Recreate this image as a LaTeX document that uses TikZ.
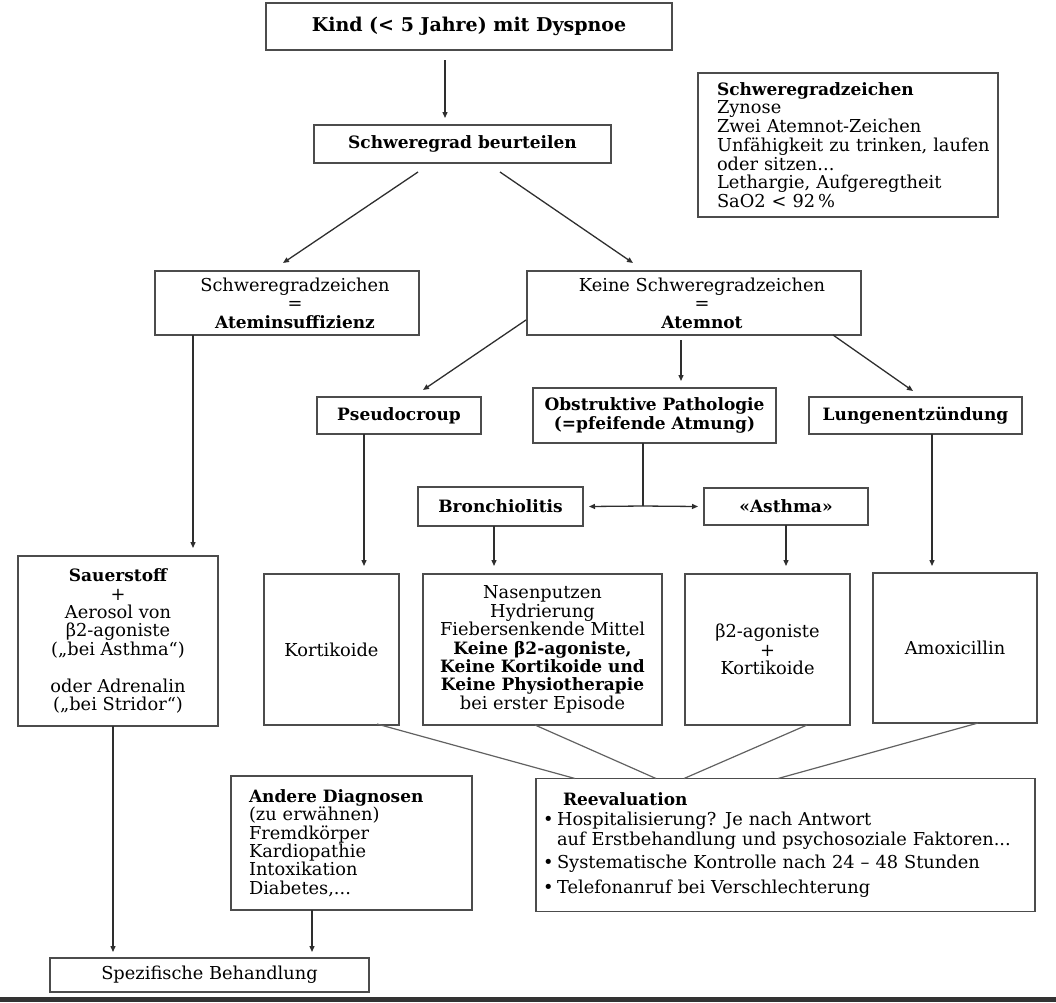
\documentclass[tikz,border=0pt]{standalone}
\usepackage{fontspec}
\setmainfont{DejaVu Serif}
\usetikzlibrary{calc,arrows.meta}
\newcommand\myfs{\fontsize{17.8}{18.4}\selectfont}
\newcommand\mybf{\fontsize{17}{18.4}\selectfont\bfseries}
\newcommand\bt[1]{{\mybf #1}}
\begin{document}
\begin{tikzpicture}[x=1pt,y=-1pt,
  box/.style={draw=black!70, line width=1.5pt, inner sep=0pt, outer sep=0pt, align=center, font=\myfs},
  bbox/.style={box, font=\mybf},
  lbox/.style={box, align=left},
  arr/.style={draw=black!82, line width=1.3pt, -{Triangle[length=6pt,width=5pt]}},
  ln/.style={draw=black!62, line width=1.2pt}]
\useasboundingbox (0,0) rectangle (1056,1002);
\fill[black!80] (0,997) rectangle (1056,1002);

% nodes
\node[bbox, font=\fontsize{19}{20}\selectfont\bfseries, minimum width=406pt, minimum height=47pt] (kind) at (469,26.5) {Kind (< 5 Jahre) mit Dyspnoe};
\node[bbox, minimum width=297pt, minimum height=38pt] (beur) at (462.5,144) {Schweregrad beurteilen};
\node[lbox, text width=262pt, inner xsep=19pt, minimum height=144pt, font=\fontsize{17.8}{18.7}\selectfont] (info) at (848,145)
  {\bt{Schweregradzeichen}\\Zynose\\Zwei Atemnot-Zeichen\\\mbox{Unfähigkeit zu trinken, laufen}\\oder sitzen...\\Lethargie, Aufgeregtheit\\SaO2 < 92\,\%};
\node[box, minimum width=264pt, minimum height=64pt] (sz) at (287,303)
  {\hspace*{16pt}Schweregradzeichen\\\hspace*{16pt}=\\\hspace*{16pt}\bt{Ateminsuffizienz}};
\node[box, minimum width=334pt, minimum height=64pt] (keine) at (694,303)
  {\hspace*{16pt}Keine Schweregradzeichen\\\hspace*{16pt}=\\\hspace*{16pt}\bt{Atemnot}};
\node[bbox, minimum width=164pt, minimum height=37pt] (pseudo) at (399,415.5) {Pseudocroup};
\node[bbox, font=\fontsize{17}{19}\selectfont\bfseries, minimum width=243pt, minimum height=55pt] (obst) at (654.5,415.5) {Obstruktive Pathologie\\(=pfeifende Atmung)};
\node[bbox, minimum width=213pt, minimum height=37pt] (lunge) at (915.5,415.5) {Lungenentzündung};
\node[bbox, minimum width=165pt, minimum height=39pt] (bronch) at (500.5,506.5) {Bronchiolitis};
\node[bbox, minimum width=164pt, minimum height=37pt] (asthma) at (786,506.5) {«Asthma»};
\node[box, minimum width=200pt, minimum height=170pt] (sauer) at (118,641)
  {\bt{Sauerstoff}\\+\\Aerosol von\\β2-agoniste\\(„bei Asthma“)\\[18.4pt]oder Adrenalin\\(„bei Stridor“)};
\node[box, minimum width=135pt, minimum height=151pt] (korti) at (331.5,649.5) {Kortikoide};
\node[box, minimum width=239pt, minimum height=151pt] (nasen) at (542.5,649.5)
  {Nasenputzen\\Hydrierung\\Fiebersenkende Mittel\\\bt{Keine β2-agoniste,}\\\bt{Keine Kortikoide und}\\\bt{Keine Physiotherapie}\\bei erster Episode};
\node[box, minimum width=165pt, minimum height=151pt] (beta) at (767.5,649.5) {β2-agoniste\\+\\Kortikoide};
\node[box, minimum width=164pt, minimum height=150pt] (amox) at (955,648) {Amoxicillin};
\node[lbox, text width=205pt, inner xsep=18pt, minimum height=134pt] (andere) at (351.5,843)
  {\bt{Andere Diagnosen}\\(zu erwähnen)\\Fremdkörper\\Kardiopathie\\Intoxikation\\Diabetes,...};
\node[lbox, text width=485pt, inner xsep=7pt, minimum height=133pt, font=\fontsize{17.8}{20}\selectfont] (reeval) at (785.5,845)
  {\hspace*{20pt}\bt{Reevaluation}\\
   \makebox[14pt][l]{•}Hospitalisierung? Je nach Antwort\\
   \hspace*{14pt}\mbox{auf Erstbehandlung und psychosoziale Faktoren...}\\[3pt]
   \makebox[14pt][l]{•}Systematische Kontrolle nach 24 – 48 Stunden\\[5pt]
   \makebox[14pt][l]{•}Telefonanruf bei Verschlechterung};
\node[box, minimum width=319pt, minimum height=34pt] (spez) at (209.5,975) {Spezifische Behandlung};

% arrows
\draw[arr] ($(kind.south)+(-24,10)$) -- ($(beur.north)+(-17.5,-7)$);
\draw[arr] ($(beur.south)+(-44.5,9)$) -- ($(sz.north)+(-4,-8)$);
\draw[arr] ($(beur.south)+(37.5,9)$) -- ($(keine.north)+(-61,-8)$);
\draw[arr] ($(keine.west)+(-1,17)$) -- ($(pseudo.north)+(24,-7)$);
\draw[arr] ($(keine.south)+(-13,5)$) -- ($(obst.north)+(26.5,-7)$);
\draw[arr] ($(keine.south east)+(-28,0)$) -- ($(lunge.north)+(-2.5,-6)$);
\coordinate (br) at ($(obst.south)+(-11.5,63)$);
\draw[draw=black!82, line width=1.3pt] ($(obst.south)+(-11.5,0)$) -- (br);
\draw[arr] (br) -- ($(bronch.east)+(6,0)$);
\draw[arr] (br) -- ($(asthma.west)+(-6,0)$);
\draw[arr] ($(sz.south)+(-94,0)$) -- ($(sauer.north)+(75,-8)$);
\draw[arr] ($(pseudo.south)+(-35,0)$) -- ($(korti.north)+(32.5,-8)$);
\draw[arr] ($(bronch.south)+(-6.5,0)$) -- ($(nasen.north)+(-48.5,-8)$);
\draw[arr] (asthma.south) -- ($(beta.north)+(18.5,-8)$);
\draw[arr] ($(lunge.south)+(16.5,0)$) -- ($(amox.north)+(-23,-7)$);
\draw[arr] ($(sauer.south)+(-5,0)$) -- ($(spez.north)+(-96.5,-6)$);
\draw[arr] ($(andere.south)+(-39.5,0)$) -- ($(spez.north)+(102.5,-6)$);
% converging lines
\draw[ln] ($(korti.south)+(45.5,-1)$) -- ($(reeval.north)+(-210.5,0)$);
\draw[ln] ($(nasen.south)+(-7.5,0)$) -- ($(reeval.north)+(-129.5,0)$);
\draw[ln] ($(beta.south)+(39.5,0)$) -- ($(reeval.north)+(-101.5,0)$);
\draw[ln] ($(amox.south)+(23,0)$) -- ($(reeval.north)+(-7.5,0)$);
\end{tikzpicture}
\end{document}
